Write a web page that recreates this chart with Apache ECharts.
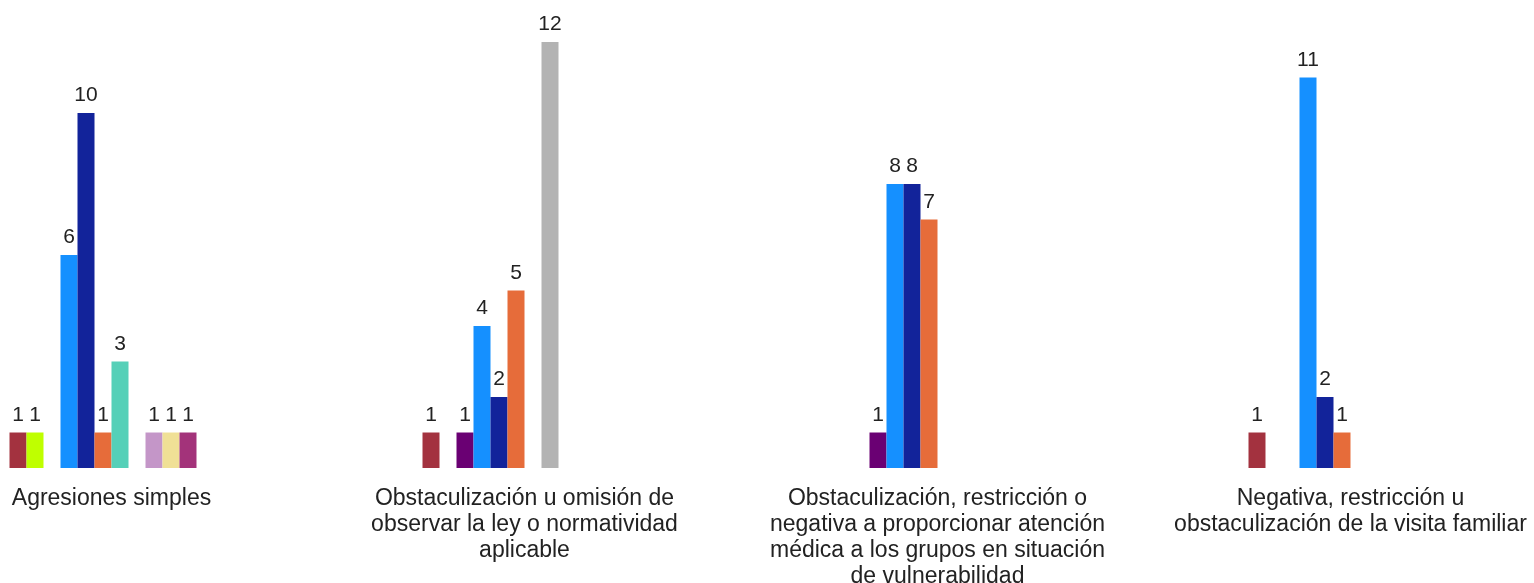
<!DOCTYPE html>
<html>
<head>
<meta charset="utf-8">
<script src="https://cdn.jsdelivr.net/npm/echarts@6/dist/echarts.min.js"></script>
<style>
html,body{margin:0;padding:0;background:#fff;}
#chart{width:1534px;height:583px;}
</style>
</head>
<body>
<div id="chart"></div>
<script>
const categories = [
  "Agresiones simples",
  "Obstaculización u omisión de\nobservar la ley o normatividad\naplicable",
  "Obstaculización, restricción o\nnegativa a proporcionar atención\nmédica a los grupos en situación\nde vulnerabilidad",
  "Negativa, restricción u\nobstaculización de la visita familiar"
];
const seriesNames = ["Serie 1","Serie 2","Serie 3","Serie 4","Serie 5","Serie 6","Serie 7","Serie 8","Serie 9","Serie 10","Serie 11","Serie 12"];
const seriesColors = ["#A3323F","#BFFF00","#6A0073","#1590FF","#12239A","#E66C3A","#55D0B8","#B3B3B3","#C496C8","#F0E096","#A3337A","#CCCCCC"];
const s1  = [1, 1, null, 1];
const s2  = [1, null, null, null];
const s3  = [null, 1, 1, null];
const s4  = [6, 4, 8, 11];
const s5  = [10, 2, 8, 2];
const s6  = [1, 5, 7, 1];
const s7  = [3, null, null, null];
const s8  = [null, 12, null, null];
const s9  = [1, null, null, null];
const s10 = [1, null, null, null];
const s11 = [1, null, null, null];
const s12 = [null, null, null, null];
const seriesValues = [s1,s2,s3,s4,s5,s6,s7,s8,s9,s10,s11,s12];

const chart = echarts.init(document.getElementById('chart'));
chart.setOption({
  animation: false,
  backgroundColor: '#ffffff',
  grid: { left: -95, right: -23, top: 42, bottom: 115, containLabel: false, outerBoundsMode: 'none' },
  xAxis: {
    type: 'category',
    data: categories,
    axisLine: { show: false },
    axisTick: { show: false },
    axisLabel: {
      interval: 0,
      margin: 18,
      color: '#222',
      fontFamily: 'Liberation Sans, Arial, sans-serif',
      fontSize: 23,
      lineHeight: 26,
      align: 'center'
    }
  },
  yAxis: {
    type: 'value',
    min: 0,
    max: 12,
    show: false,
    splitLine: { show: false }
  },
  series: seriesValues.map((vals, i) => ({
    name: seriesNames[i],
    type: 'bar',
    data: vals,
    barWidth: 17,
    barGap: '0%',
    itemStyle: { color: seriesColors[i] },
    label: {
      show: true,
      position: 'top',
      distance: 7,
      color: '#222',
      fontFamily: 'Liberation Sans, Arial, sans-serif',
      fontSize: 21
    }
  }))
});
</script>
</body>
</html>
